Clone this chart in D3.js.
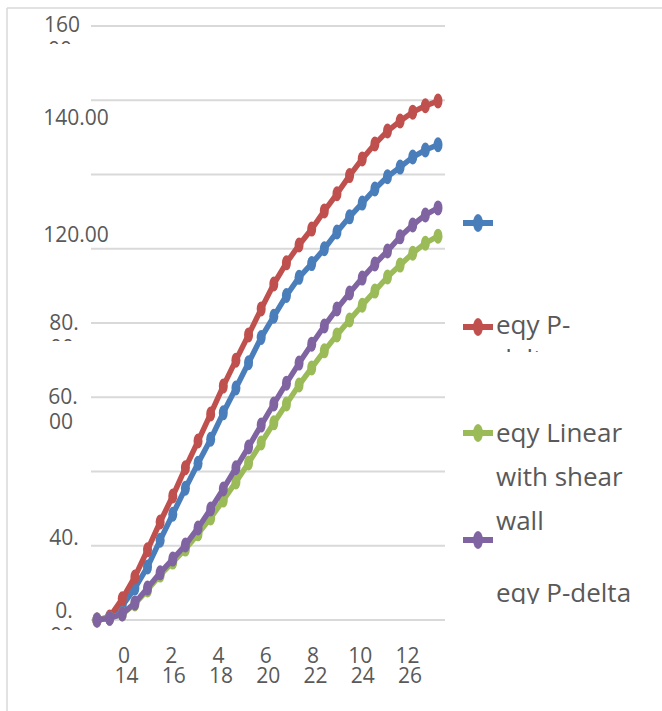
<!DOCTYPE html>
<html>
<head>
<meta charset="utf-8">
<script src="https://cdn.jsdelivr.net/npm/d3@7"></script>
<style>
  html, body { margin: 0; padding: 0; background: #ffffff; }
  svg { display: block; }
  text { font-family: "Open Sans", "Noto Sans", sans-serif; fill: #595959; }
</style>
</head>
<body>
<svg id="chart" width="662" height="711"></svg>
<script>
// Storey index (category axis)
const categories = [0, 1, 2, 3, 4, 5, 6, 7, 8, 9, 10, 11, 12, 13,
                    14, 15, 16, 17, 18, 19, 20, 21, 22, 23, 24, 25, 26, 27];

// Series values
const eqyLinear = [0, 0.5, 3.8, 8.6, 14.3, 21.5, 28.5, 35.5, 42.2, 48.7, 55.8, 62.5, 69.3, 76.1,
                   81.8, 87.4, 92.3, 96.0, 100.0, 104.5, 108.6, 112.3, 116.1, 119.4, 122.0, 124.7, 126.6, 128.0];
const eqyPDelta = [0, 0.8, 5.7, 11.6, 18.9, 26.4, 33.4, 41.0, 48.2, 55.5, 63.0, 70.0, 76.8, 83.8,
                   90.5, 96.2, 101.0, 105.3, 110.2, 114.8, 119.7, 124.2, 128.2, 131.7, 134.4, 136.8, 138.5, 139.8];
const eqyLinearWall = [0, 0.5, 1.6, 4.3, 8.1, 12.1, 15.6, 19.1, 23.2, 27.5, 32.3, 37.2, 42.3, 47.7,
                       53.1, 58.2, 63.3, 67.9, 72.5, 76.8, 80.8, 84.8, 88.6, 92.4, 95.6, 98.8, 101.5, 103.4];
const eqyPDeltaWall = [0, 0.5, 1.6, 4.6, 8.6, 12.7, 16.4, 20.2, 24.8, 29.9, 35.3, 41.0, 46.6, 52.5,
                       58.2, 63.8, 69.2, 74.3, 79.2, 83.8, 88.1, 92.1, 95.9, 99.4, 103.2, 106.4, 109.1, 111.0];

// Gridline values and axis labels
const yGridValues = [0, 20, 40, 60, 80, 100, 120, 140, 160];
const yTickLabels = ["160", "140.00", "120.00", "80.", "60.", "40.", "0."];
const yTickWrap   = ["00", "", "", "00", "00", "", "00"];
const xTickTop    = ["0", "2", "4", "6", "8", "10", "12"];
const xTickBottom = ["14", "16", "18", "20", "22", "24", "26"];

// Legend text as laid out in its box
const legendLines = [
  [],
  ["eqy P-", "delta"],
  ["eqy Linear", "with shear", "wall"],
  ["eqy P-delta"]
];

const series = [
  { values: eqyLinear,     color: "#4a7ebb" },
  { values: eqyPDelta,     color: "#c0504d" },
  { values: eqyLinearWall, color: "#9bbb59" },
  { values: eqyPDeltaWall, color: "#8064a2" }
];

const svg = d3.select("#chart");
const defs = svg.append("defs");

// Chart area frame
svg.append("line").attr("x1", 7).attr("x2", 7).attr("y1", 8).attr("y2", 711)
  .attr("stroke", "#d9d9d9").attr("stroke-width", 1.5);
svg.append("line").attr("x1", 7).attr("x2", 662).attr("y1", 8).attr("y2", 8)
  .attr("stroke", "#d9d9d9").attr("stroke-width", 1.5);

const x = d3.scalePoint().domain(categories).range([97, 438]);
const y = d3.scaleLinear().domain([0, 160]).range([620, 26]);

// Horizontal gridlines
svg.append("g").selectAll("line").data(yGridValues).join("line")
  .attr("x1", 91).attr("x2", 445)
  .attr("y1", d => y(d)).attr("y2", d => y(d))
  .attr("stroke", "#d9d9d9").attr("stroke-width", 2);

// Value-axis labels (wrapped, second line clipped by the label box)
const yLabelLayout = [
  { cx: 62, base: 32,  clip: 44 },
  { cx: 76, base: 125, clip: 999 },
  { cx: 76, base: 242, clip: 999 },
  { cx: 64, base: 330, clip: 341 },
  { cx: 63, base: 404, clip: 999 },
  { cx: 64, base: 545, clip: 999 },
  { cx: 64, base: 618, clip: 630 }
];
yTickLabels.forEach((t, i) => {
  const L = yLabelLayout[i];
  const id = "ylab" + i;
  defs.append("clipPath").attr("id", id).append("rect")
    .attr("x", 0).attr("y", L.base - 30).attr("width", 130).attr("height", L.clip - (L.base - 30));
  const txt = svg.append("g").attr("clip-path", `url(#${id})`)
    .append("text").attr("y", L.base)
    .attr("text-anchor", "middle").attr("font-size", 21);
  txt.append("tspan").attr("x", L.cx).text(t);
  if (yTickWrap[i]) {
    txt.append("tspan").attr("x", L.cx - 2).attr("dy", 25).text(yTickWrap[i]);
  }
});

// Category-axis labels, wrapped onto two rows
const xLab = d3.scalePoint().domain(d3.range(xTickTop.length)).range([124, 407.5]);
const xCols = svg.append("g").selectAll("text").data(xTickTop).join("text")
  .attr("y", 663).attr("text-anchor", "middle").attr("font-size", 21);
xCols.append("tspan").attr("x", (d, i) => xLab(i)).text(d => d);
xCols.append("tspan").attr("x", (d, i) => xLab(i) + 2.5).attr("dy", 20)
  .text((d, i) => xTickBottom[i]);

// Lines with markers
const line = d3.line().x((d, i) => x(categories[i])).y(d => y(d));
series.forEach(s => {
  const g = svg.append("g");
  g.append("path").datum(s.values)
    .attr("d", line).attr("fill", "none")
    .attr("stroke", s.color).attr("stroke-width", 5.5)
    .attr("stroke-linejoin", "round").attr("stroke-linecap", "round");
  g.selectAll("ellipse").data(s.values).join("ellipse")
    .attr("cx", (d, i) => x(categories[i])).attr("cy", d => y(d))
    .attr("rx", 4.5).attr("ry", 7.5).attr("fill", s.color);
});

// Legend
const legendY = [223, 327, 433, 540];
const legendBase = [
  [],
  [334, 368],
  [442, 486, 530],
  [602]
];
const legendClip = [999, 352, 999, 604];
series.forEach((s, i) => {
  const g = svg.append("g");
  g.append("line").attr("x1", 463).attr("x2", 493)
    .attr("y1", legendY[i]).attr("y2", legendY[i])
    .attr("stroke", s.color).attr("stroke-width", 6);
  g.append("ellipse").attr("cx", 478).attr("cy", legendY[i])
    .attr("rx", 5).attr("ry", 9).attr("fill", s.color);
  if (!legendLines[i].length) return;
  const id = "leg" + i;
  defs.append("clipPath").attr("id", id).append("rect")
    .attr("x", 490).attr("y", 0).attr("width", 172).attr("height", legendClip[i]);
  const txt = svg.append("g").attr("clip-path", `url(#${id})`)
    .append("text").attr("y", legendBase[i][0]).attr("font-size", 26);
  legendLines[i].forEach((t, j) => {
    txt.append("tspan").attr("x", 496)
      .attr("dy", j === 0 ? 0 : legendBase[i][j] - legendBase[i][j - 1])
      .text(t);
  });
});
</script>
</body>
</html>
